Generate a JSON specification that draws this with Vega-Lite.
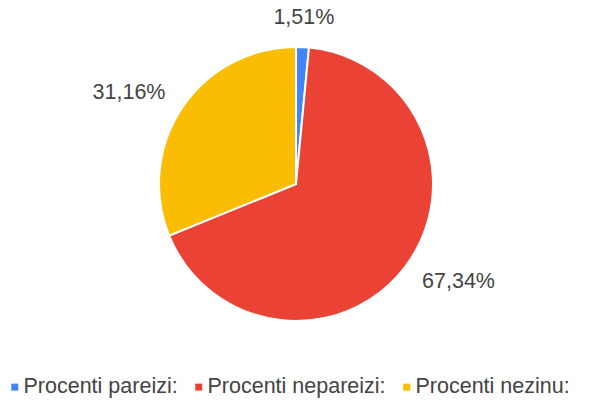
{
  "$schema": "https://vega.github.io/schema/vega-lite/v6.json",
  "width": 590,
  "height": 368,
  "autosize": "none",
  "padding": {"left": 1, "top": 0, "right": 0, "bottom": 32},
  "background": "white",
  "config": {"view": {"stroke": null}, "font": "Liberation Sans"},
  "data": {
    "values": [
      {"idx": 1, "category": "Procenti pareizi:", "value": 1.51, "label": "1,51%"},
      {"idx": 2, "category": "Procenti nepareizi:", "value": 67.34, "label": "67,34%"},
      {"idx": 3, "category": "Procenti nezinu:", "value": 31.16, "label": "31,16%"}
    ]
  },
  "encoding": {
    "theta": {"field": "value", "type": "quantitative", "stack": true},
    "order": {"field": "idx", "type": "quantitative"}
  },
  "layer": [
    {
      "mark": {"type": "arc", "outerRadius": 137, "stroke": "white", "strokeWidth": 2},
      "encoding": {
        "color": {
          "field": "category",
          "type": "nominal",
          "scale": {
            "domain": ["Procenti pareizi:", "Procenti nepareizi:", "Procenti nezinu:"],
            "range": ["#4285F4", "#EA4335", "#FBBC04"]
          },
          "legend": {
            "title": null,
            "orient": "none",
            "legendX": 3,
            "legendY": 376,
            "direction": "horizontal",
            "columns": 3,
            "symbolType": "square",
            "symbolSize": 49,
            "symbolStrokeWidth": 0,
            "labelFont": "Liberation Sans",
            "labelFontSize": 21.5,
            "labelColor": "#444444",
            "labelOffset": -2,
            "columnPadding": 10,
            "labelLimit": 400
          }
        }
      }
    },
    {
      "transform": [{"filter": "datum.idx != 1"}],
      "mark": {"type": "text", "radius": 190, "fontSize": 21.5, "color": "#444444", "font": "Liberation Sans"},
      "encoding": {"text": {"field": "label"}}
    },
    {
      "transform": [{"filter": "datum.idx == 1"}],
      "mark": {"type": "text", "radius": 166, "fontSize": 21.5, "color": "#444444", "font": "Liberation Sans"},
      "encoding": {"text": {"field": "label"}}
    }
  ]
}
